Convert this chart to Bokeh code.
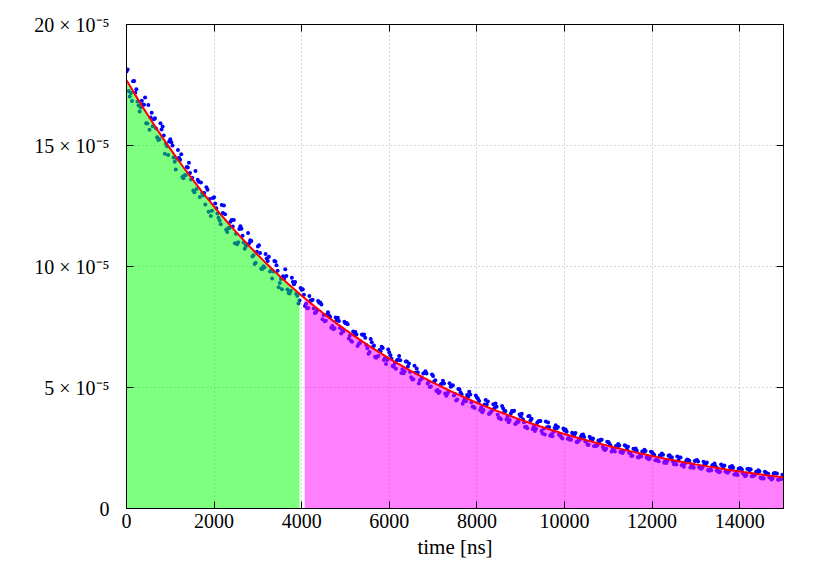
import numpy as np
from bokeh.plotting import figure
from bokeh.models import FixedTicker, LinearAxis, Range1d
from bokeh.embed import file_html
from bokeh.resources import INLINE

# fitted decay curve (units of 1e-5), sampled every 100 ns
fit_t = list(range(0, 15001, 100))
fit_y = [17.70, 17.393, 17.092, 16.795, 16.504, 16.218, 15.937, 15.661, 15.389, 15.123,
         14.861, 14.603, 14.350, 14.101, 13.857, 13.617, 13.381, 13.149, 12.921, 12.697,
         12.477, 12.261, 12.048, 11.839, 11.634, 11.432, 11.234, 11.040, 10.848, 10.660,
         10.476, 10.294, 10.116, 9.940, 9.768, 9.599, 9.432, 9.269, 9.108, 8.950,
         8.795, 8.643, 8.493, 8.346, 8.201, 8.059, 7.919, 7.782, 7.647, 7.515,
         7.384, 7.256, 7.131, 7.007, 6.886, 6.766, 6.649, 6.534, 6.420, 6.309,
         6.200, 6.092, 5.987, 5.883, 5.781, 5.681, 5.582, 5.486, 5.391, 5.297,
         5.205, 5.115, 5.027, 4.939, 4.854, 4.770, 4.687, 4.606, 4.526, 4.448,
         4.371, 4.295, 4.220, 4.147, 4.075, 4.005, 3.935, 3.867, 3.800, 3.734,
         3.670, 3.606, 3.544, 3.482, 3.422, 3.363, 3.304, 3.247, 3.191, 3.135,
         3.081, 3.028, 2.975, 2.923, 2.873, 2.823, 2.774, 2.726, 2.679, 2.632,
         2.587, 2.542, 2.498, 2.454, 2.412, 2.370, 2.329, 2.289, 2.249, 2.210,
         2.172, 2.134, 2.097, 2.061, 2.025, 1.990, 1.956, 1.922, 1.888, 1.856,
         1.823, 1.792, 1.761, 1.730, 1.700, 1.671, 1.642, 1.613, 1.585, 1.558,
         1.531, 1.504, 1.478, 1.453, 1.427, 1.403, 1.378, 1.355, 1.331, 1.308, 1.285]

# measured points, set A (t = 0, 100, ..., 15000 ns)
data_a_t = list(range(0, 15001, 100))
data_a_y = [18.06, 17.17, 17.18, 16.40, 16.68, 16.67, 15.80, 15.34, 15.66, 15.07,
            15.26, 14.33, 14.49, 13.65, 14.09, 13.67, 13.20, 13.47, 12.56, 12.79,
            12.86, 12.01, 12.21, 11.43, 11.92, 11.35, 11.66, 10.73, 10.96, 10.46,
            10.83, 9.90, 10.33, 9.82, 10.21, 9.32, 9.49, 8.90, 9.36, 8.79,
            9.04, 8.46, 8.59, 8.08, 8.50, 8.00, 8.11, 7.54, 7.78, 7.23,
            7.65, 7.15, 7.18, 6.80, 7.17, 6.62, 6.87, 6.23, 6.50, 6.22,
            6.45, 5.86, 6.15, 5.75, 6.07, 5.42, 5.61, 5.30, 5.60, 5.23,
            5.48, 4.90, 5.15, 4.66, 5.03, 4.73, 4.93, 4.44, 4.62, 4.20,
            4.59, 4.18, 4.48, 3.95, 4.15, 3.74, 4.13, 3.79, 4.03, 3.52,
            3.81, 3.37, 3.82, 3.38, 3.59, 3.10, 3.36, 3.07, 3.44, 3.01,
            3.23, 2.91, 3.05, 2.75, 3.05, 2.77, 2.89, 2.58, 2.77, 2.45,
            2.75, 2.47, 2.53, 2.32, 2.58, 2.28, 2.46, 2.11, 2.30, 2.15,
            2.32, 1.99, 2.20, 1.98, 2.20, 1.83, 1.98, 1.81, 2.02, 1.82,
            1.98, 1.66, 1.83, 1.56, 1.81, 1.65, 1.78, 1.51, 1.64, 1.41,
            1.66, 1.43, 1.64, 1.33, 1.47, 1.24, 1.48, 1.31, 1.47, 1.20, 1.37]

# measured points, set B (t = 50, 150, ..., 14950 ns)
data_b_t = list(range(50, 15000, 100))
data_b_y = [17.25, 17.65, 16.82, 16.85, 15.92, 16.16, 16.13, 15.26, 15.41, 14.61,
            15.00, 14.45, 14.64, 13.77, 13.86, 13.07, 13.50, 12.93, 13.17, 12.30,
            12.41, 11.75, 12.16, 11.59, 11.92, 11.00, 11.27, 10.87, 11.05, 10.15,
            10.56, 9.96, 10.40, 9.79, 9.82, 9.06, 9.61, 9.00, 9.36, 8.60,
            8.83, 8.29, 8.63, 8.18, 8.43, 7.76, 7.91, 7.45, 7.75, 7.31,
            7.61, 6.89, 7.19, 6.90, 7.06, 6.47, 6.74, 6.30, 6.63, 6.14,
            6.19, 5.77, 6.13, 5.67, 5.99, 5.34, 5.63, 5.38, 5.58, 5.04,
            5.30, 4.82, 5.17, 4.82, 5.09, 4.50, 4.72, 4.43, 4.71, 4.15,
            4.44, 4.07, 4.42, 4.06, 4.20, 3.69, 4.03, 3.66, 4.04, 3.58,
            3.69, 3.32, 3.71, 3.30, 3.62, 3.06, 3.37, 3.16, 3.37, 2.89,
            3.17, 2.85, 3.12, 2.84, 2.95, 2.63, 2.89, 2.61, 2.84, 2.47,
            2.60, 2.36, 2.60, 2.38, 2.55, 2.18, 2.39, 2.15, 2.38, 2.09,
            2.21, 1.95, 2.22, 1.97, 2.12, 1.82, 2.11, 1.86, 1.97, 1.68,
            1.94, 1.70, 1.90, 1.58, 1.75, 1.52, 1.78, 1.54, 1.68, 1.38,
            1.61, 1.38, 1.62, 1.39, 1.54, 1.24, 1.44, 1.24, 1.45, 1.22]

# measured points, set C (t = 25, 125, ..., 14925 ns)
data_c_t = list(range(25, 15000, 100))
data_c_y = [18.14, 16.84, 17.32, 16.57, 16.98, 15.65, 16.08, 15.23, 15.79, 14.97,
            15.13, 14.01, 14.41, 13.77, 14.29, 13.14, 13.58, 13.04, 13.27, 12.09,
            12.60, 11.90, 12.52, 11.59, 11.65, 10.92, 11.56, 10.87, 11.08, 10.10,
            10.88, 10.01, 10.23, 9.50, 10.05, 9.48, 9.89, 8.88, 9.27, 8.47,
            9.06, 8.27, 8.59, 8.11, 8.51, 7.74, 7.98, 7.41, 7.88, 7.38,
            7.67, 6.93, 7.29, 6.84, 7.19, 6.39, 6.67, 6.28, 6.68, 5.97,
            6.33, 5.99, 6.30, 5.59, 5.87, 5.33, 5.79, 5.34, 5.67, 5.02,
            5.25, 4.77, 5.28, 4.74, 5.05, 4.46, 4.80, 4.53, 4.82, 4.20,
            4.53, 3.98, 4.30, 4.00, 4.34, 3.74, 4.00, 3.56, 4.02, 3.62,
            3.92, 3.38, 3.65, 3.20, 3.62, 3.30, 3.55, 2.99, 3.32, 2.96,
            3.26, 2.84, 3.06, 2.83, 3.06, 2.63, 2.82, 2.58, 2.84, 2.42,
            2.69, 2.43, 2.67, 2.29, 2.45, 2.17, 2.48, 2.22, 2.43, 2.04,
            2.25, 2.00, 2.27, 1.88, 2.09, 1.89, 2.11, 1.73, 2.00, 1.79,
            2.00, 1.64, 1.84, 1.61, 1.86, 1.50, 1.68, 1.48, 1.76, 1.48,
            1.66, 1.33, 1.58, 1.36, 1.58, 1.27, 1.45, 1.20, 1.45, 1.26]

# measured points, set D (t = 75, 175, ..., 14975 ns)
data_d_t = list(range(75, 15000, 100))
data_d_y = [17.02, 17.67, 16.65, 16.69, 15.91, 16.35, 15.70, 15.92, 14.66, 15.17,
            14.50, 14.81, 13.70, 14.11, 13.60, 13.95, 12.87, 13.04, 12.26, 12.83,
            12.19, 12.54, 11.52, 11.85, 10.96, 11.55, 10.99, 11.38, 10.41, 10.61,
            9.91, 10.52, 9.79, 10.23, 9.14, 9.60, 9.05, 9.54, 8.87, 9.11,
            8.37, 8.78, 8.26, 8.57, 7.82, 8.01, 7.47, 7.89, 7.46, 7.72,
            7.02, 7.31, 6.71, 7.19, 6.76, 7.00, 6.27, 6.55, 6.14, 6.57,
            5.89, 6.13, 5.60, 6.07, 5.64, 5.90, 5.17, 5.58, 5.17, 5.54,
            4.86, 5.13, 4.75, 5.18, 4.67, 4.94, 4.33, 4.69, 4.38, 4.67,
            4.07, 4.30, 3.90, 4.31, 3.87, 4.24, 3.68, 3.93, 3.49, 3.88,
            3.56, 3.81, 3.28, 3.53, 3.20, 3.59, 3.01, 3.33, 3.06, 3.31,
            2.88, 3.13, 2.75, 2.98, 2.77, 2.97, 2.57, 2.81, 2.54, 2.76,
            2.36, 2.58, 2.33, 2.61, 2.30, 2.47, 2.12, 2.36, 2.10, 2.35,
            1.99, 2.19, 1.89, 2.18, 1.95, 2.15, 1.79, 1.96, 1.69, 1.96,
            1.70, 1.93, 1.59, 1.79, 1.56, 1.82, 1.53, 1.71, 1.40, 1.64,
            1.45, 1.63, 1.33, 1.52, 1.27, 1.52, 1.28, 1.45, 1.19, 1.39]

# integration windows (ns)
window1 = (0, 3950)
window2 = (4070, 15000)

x_ticks = [0, 2000, 4000, 6000, 8000, 10000, 12000, 14000]
y_ticks = [0, 5, 10, 15, 20]
y_labels = {0: "0", 5: "5 × 10⁻⁵", 10: "10 × 10⁻⁵", 15: "15 × 10⁻⁵", 20: "20 × 10⁻⁵"}

FONT = "Liberation Serif"

p = figure(output_backend="svg", toolbar_location=None,
           frame_width=657, frame_height=484,
           x_range=Range1d(0, 15000), y_range=Range1d(0, 20),
           min_border_left=126, min_border_top=24, min_border_right=30, min_border_bottom=62,
           background_fill_color="white", border_fill_color="white")
p.outline_line_color = "black"
p.outline_line_width = 1

# grid
for g in (p.xgrid, p.ygrid):
    g.grid_line_color = "#a8a8a8"
    g.grid_line_dash = "1 3"
    g.grid_line_width = 1
p.xgrid.ticker = FixedTicker(ticks=x_ticks)
p.ygrid.ticker = FixedTicker(ticks=y_ticks)

# scatter points
for tt, yy in ((data_a_t, data_a_y), (data_b_t, data_b_y),
               (data_c_t, data_c_y), (data_d_t, data_d_y)):
    p.scatter(tt, yy, size=4, color="#0000ff", line_color=None)

# filled integration windows (semi-transparent, over the points)
def window_fill(lo, hi, color):
    xs = [lo] + [t for t in fit_t if lo < t < hi] + [hi]
    ys = list(np.interp(xs, fit_t, fit_y))
    p.varea(x=xs, y1=[0] * len(xs), y2=ys, fill_color=color, fill_alpha=0.5)

window_fill(window1[0], window1[1], "#00ff00")
window_fill(window2[0], window2[1], "#ff00ff")

# fit line
p.line(fit_t, fit_y, line_color="#ff0000", line_width=2)

# axes
def style_axis(ax):
    ax.axis_line_color = "black"
    ax.major_tick_in = 7
    ax.major_tick_out = 0
    ax.minor_tick_in = 0
    ax.minor_tick_out = 0
    ax.major_tick_line_color = "black"
    ax.major_label_text_font = FONT
    ax.major_label_text_font_size = "20px"
    ax.major_label_text_color = "black"
    ax.axis_label_text_font = FONT
    ax.axis_label_text_font_style = "normal"
    ax.axis_label_text_font_size = "21px"
    ax.axis_label_text_color = "black"

xa = p.xaxis[0]
xa.ticker = FixedTicker(ticks=x_ticks)
style_axis(xa)
xa.axis_label = "time [ns]"
xa.major_label_standoff = 5
xa.axis_label_standoff = 4

ya = p.yaxis[0]
ya.ticker = FixedTicker(ticks=y_ticks)
ya.major_label_overrides = y_labels
style_axis(ya)
ya.major_label_standoff = 17

top = LinearAxis(ticker=FixedTicker(ticks=x_ticks))
style_axis(top)
top.major_label_overrides = {t: "" for t in x_ticks}
p.add_layout(top, "above")
right = LinearAxis(ticker=FixedTicker(ticks=y_ticks))
style_axis(right)
right.major_label_overrides = {t: "" for t in y_ticks}
p.add_layout(right, "right")

open("out.html", "w").write(file_html(p, INLINE))
